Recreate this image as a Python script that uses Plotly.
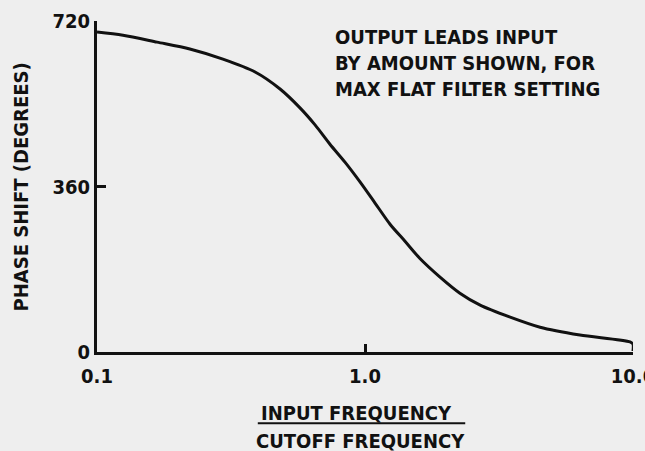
import plotly.graph_objects as go

# Data (frequency ratio vs phase shift in degrees)
freq_ratio = [0.1, 0.125, 0.1675, 0.222, 0.295, 0.389, 0.482, 0.572, 0.651,
              0.740, 0.842, 0.958, 1.09, 1.24, 1.41, 1.60, 1.905, 2.26,
              2.69, 3.48, 4.50, 6.34, 9.75, 10.0, 10.0]
phase_deg = [696, 689, 674, 659, 637, 609, 572, 531, 494,
             452, 413, 370, 324, 278, 241, 204, 163, 128,
             102, 76, 54, 37, 22, 17, 2]

x_tickvals = [0.1, 1.0, 10.0]
x_ticktext = ["0.1", "1.0", "10.0"]
y_tickvals = [0, 360, 720]
y_ticktext = ["0", "360", "720"]

FONT = "DejaVu Sans Condensed, Liberation Sans Narrow, DejaVu Sans, sans-serif"
INK = "#111111"
BG = "#eeeeee"

fig = go.Figure()
fig.add_trace(go.Scatter(
    x=freq_ratio, y=phase_deg, mode="lines",
    line=dict(color=INK, width=3, shape="spline", smoothing=0.8),
    hoverinfo="skip", showlegend=False,
))

fig.update_layout(
    width=645, height=451,
    margin=dict(l=97, r=12, t=21, b=99, autoexpand=False),
    paper_bgcolor=BG, plot_bgcolor=BG,
    font=dict(family=FONT, color=INK, size=20),
    xaxis=dict(
        type="log", range=[-1, 1], automargin=False,
        showgrid=False, zeroline=False,
        showline=True, linecolor=INK, linewidth=3,
        tickmode="array", tickvals=x_tickvals, ticktext=x_ticktext,
        ticks="inside", ticklen=8, tickwidth=3, tickcolor=INK,
        tickfont=dict(family=FONT, size=20, color=INK, weight="bold"),
        ticklabelstandoff=4, ticklabeloverflow="allow",
    ),
    yaxis=dict(
        range=[0, 720], automargin=False,
        showgrid=False, zeroline=False,
        showline=True, linecolor=INK, linewidth=3,
        tickmode="array", tickvals=y_tickvals, ticktext=y_ticktext,
        ticks="inside", ticklen=9, tickwidth=3, tickcolor=INK,
        tickfont=dict(family=FONT, size=20, color=INK, weight="bold"),
        ticklabelstandoff=0, ticklabeloverflow="allow",
    ),
    annotations=[
        dict(text="<b>OUTPUT LEADS INPUT<br>BY AMOUNT SHOWN, FOR<br>MAX FLAT FILTER SETTING</b>",
             xref="paper", yref="paper", x=0.440, y=0.993,
             xanchor="left", yanchor="top", align="left", showarrow=False,
             font=dict(family=FONT, size=20, color=INK)),
        dict(text="<b>PHASE SHIFT (DEGREES)</b>",
             xref="paper", yref="paper", x=-0.142, y=0.50,
             xanchor="center", yanchor="middle", textangle=-90, showarrow=False,
             font=dict(family=FONT, size=20, color=INK)),
        dict(text="<b>INPUT FREQUENCY</b>",
             xref="paper", yref="paper", x=0.484, y=-0.183,
             xanchor="center", yanchor="middle", showarrow=False,
             font=dict(family=FONT, size=20, color=INK)),
        dict(text="<b>CUTOFF FREQUENCY</b>",
             xref="paper", yref="paper", x=0.492, y=-0.270,
             xanchor="center", yanchor="middle", showarrow=False,
             font=dict(family=FONT, size=20, color=INK)),
    ],
    shapes=[
        dict(type="line", xref="paper", yref="paper",
             x0=0.300, x1=0.687, y0=-0.215, y1=-0.215,
             line=dict(color=INK, width=2)),
    ],
)

fig.write_html("out.html", config={"displayModeBar": False},
               post_script="document.body.style.margin='0';")
